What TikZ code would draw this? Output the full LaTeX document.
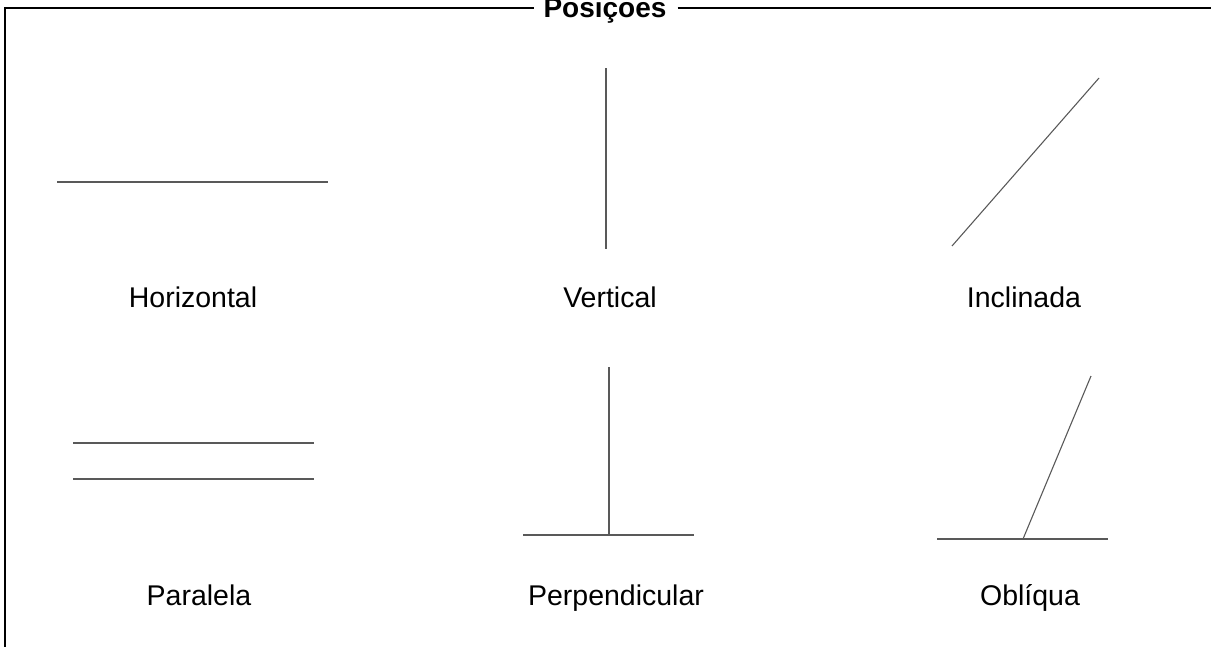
\documentclass[tikz,border=0pt]{standalone}
\usepackage{fontspec}
\setmainfont{Liberation Sans}
\begin{document}
\begin{tikzpicture}[x=1pt,y=-1pt,
  frame/.style={draw=black,line width=1.8pt},
  figline/.style={draw=black!65,line width=1.1pt},
  label/.style={anchor=base,inner sep=0pt,font=\fontsize{28.5}{31}\selectfont},
  heading/.style={anchor=base,inner sep=0pt,font=\fontsize{28}{31}\selectfont\bfseries}]
\useasboundingbox (0,0) rectangle (1211,646);
\clip (0,0) rectangle (1211,646);

% group frame with its heading
\node[heading] (title) at (605,17) {Posiçoes};
\coordinate (fbl) at (5,660);
\coordinate (ftl) at (5,8);
\coordinate (ftr) at (1220,8);
\draw[frame] (fbl) -- (ftl) -- ([xshift=-9pt]title.west |- ftl);
\draw[frame] ([xshift=11pt]title.east |- ftr) -- (ftr);

% horizontal
\draw[figline] (57,182) -- (328,182);
\node[label] (horizontal) at (193,307) {Horizontal};

% vertical
\draw[figline] (606,68) -- (606,249);
\node[label] (vertical) at (610,307) {Vertical};

% inclined
\draw[figline] (952,246) -- (1099,78);
\node[label] (inclinada) at (1024,307) {Inclinada};

% parallel
\draw[figline] (73,443) -- (314,443);
\draw[figline] (73,479) -- (314,479);
\node[label] (paralela) at (199,605) {Paralela};

% perpendicular
\coordinate (pfoot) at (609,535);
\draw[figline] (523,535) -- (694,535);
\draw[figline] (pfoot) -- (609,367);
\node[label] (perpendicular) at (616,605) {Perpendicular};

% oblique
\coordinate (ofoot) at (1023,539);
\draw[figline] (937,539) -- (1108,539);
\draw[figline] (ofoot) -- (1091,376);
\node[label] (obliqua) at (1030,605) {Oblíqua};
\end{tikzpicture}
\end{document}
